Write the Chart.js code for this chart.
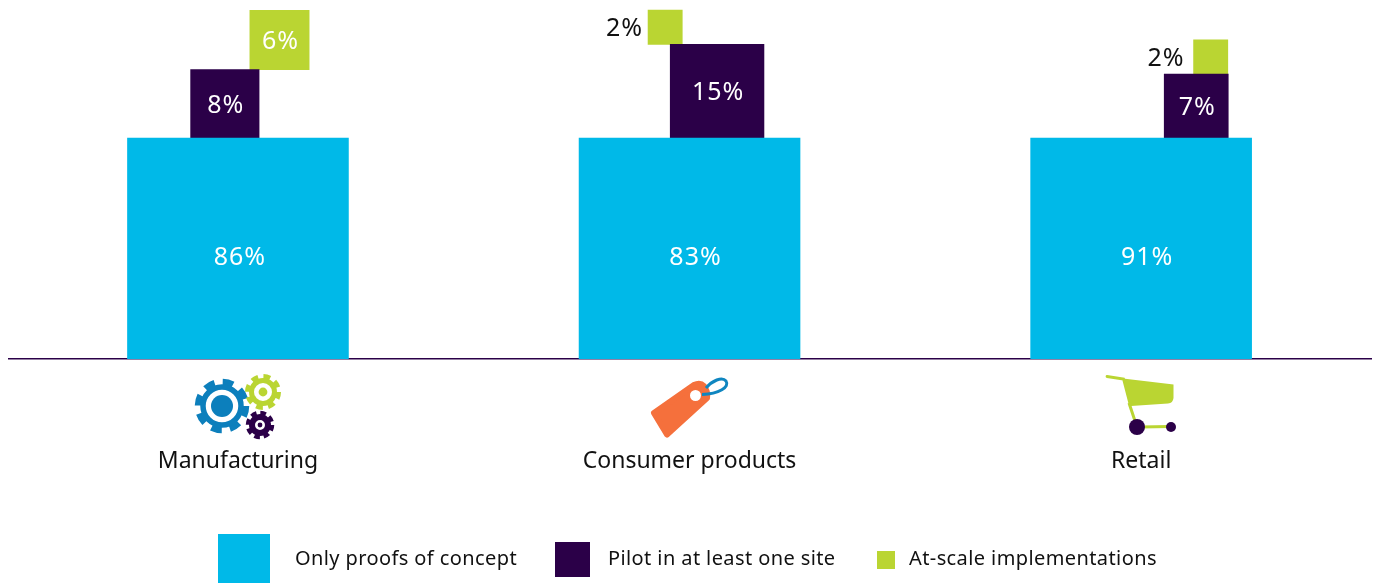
<!DOCTYPE html>
<html>
<head>
<meta charset="utf-8">
<title>Proofs of concept, pilots and at-scale implementations</title>
<script src="https://cdn.jsdelivr.net/npm/chart.js@4/dist/chart.umd.min.js"></script>
<style>
    html, body { margin: 0; padding: 0; background: #fff; }
    #wrap { position: relative; width: 1378px; height: 583px; overflow: hidden; font-family: 'Noto Sans', sans-serif; color: #111; }
    #wrap canvas { position: absolute; left: 0; top: 0; }
    #icons { position: absolute; left: 0; top: 0; pointer-events: none; }
    .key { position: absolute; }
    .key-text { position: absolute; font-size: 20px; line-height: 28px; letter-spacing: 0.4px; white-space: nowrap; top: 544px; }
</style>
</head>
<body>
<div id="wrap">
    <canvas id="adoptionChart" width="1378" height="583"></canvas>

    <svg id="icons" width="1378" height="583" viewBox="0 0 1378 583">
        <!-- gears -->
        <g fill="none">
            <circle cx="222" cy="406" r="24" stroke="#0C7FBC" stroke-width="6.5" stroke-dasharray="10.6 8.25"/>
            <circle cx="222" cy="406" r="19" stroke="#0C7FBC" stroke-width="5.5"/>
            <circle cx="263" cy="392" r="15.5" stroke="#BAD532" stroke-width="5" stroke-dasharray="6.8 5.37"/>
            <circle cx="263" cy="392" r="11.5" stroke="#BAD532" stroke-width="5"/>
            <circle cx="260" cy="425" r="12" stroke="#2B0048" stroke-width="4.5" stroke-dasharray="5.6 3.82"/>
            <circle cx="260" cy="425" r="8" stroke="#2B0048" stroke-width="6"/>
        </g>
        <circle cx="222" cy="406" r="11" fill="#0C7FBC"/>
        <circle cx="263" cy="392" r="4.4" fill="#BAD532"/>
        <circle cx="260" cy="425" r="2.4" fill="#2B0048"/>
        <!-- tag -->
        <path d="M694 385 Q700 382 704 386 Q708 391 707 398 L667 434.5 L654 413 Z" fill="#F5703C" stroke="#F5703C" stroke-width="6" stroke-linejoin="round"/>
        <circle cx="695.5" cy="395.5" r="5.5" fill="#fff"/>
        <path d="M706 388 C712 381 722 376 726 381 C730 387 719 394 702 394.5" fill="none" stroke="#0F86C0" stroke-width="3"/>
        <!-- cart -->
        <path d="M1107 376.5 L1123.5 379 L1130 404" fill="none" stroke="#BAD532" stroke-width="2.8" stroke-linecap="round"/>
        <path d="M1123 378.5 L1173.5 384.5 L1173.5 398 Q1173 403 1168 403.5 L1131 406 Z" fill="#BAD532"/>
        <path d="M1129 403 L1135 421 M1140 427 L1170 426.5" fill="none" stroke="#BAD532" stroke-width="3"/>
        <circle cx="1137" cy="427" r="8" fill="#2B0048"/>
        <circle cx="1171" cy="427" r="5" fill="#2B0048"/>
    </svg>

    <div class="key" style="left:218px;top:534px;width:52px;height:49px;background:#00B9E8"></div>
    <div class="key-text" style="left:295px">Only proofs of concept</div>
    <div class="key" style="left:555px;top:542px;width:35px;height:35px;background:#2B0048"></div>
    <div class="key-text" style="left:608px">Pilot in at least one site</div>
    <div class="key" style="left:877px;top:551px;width:18px;height:18px;background:#BAD532"></div>
    <div class="key-text" style="left:909px">At-scale implementations</div>
</div>

<script>
// data
const categories = ['Manufacturing', 'Consumer products', 'Retail'];
const proofValues = [86, 83, 91];
const pilotValues = [8, 15, 7];
const scaleValues = [6, 2, 2];

// layout: small squares have area proportional to value, the big ones are all the same size
const UNIT_PX = 24.2;
const PROOF_SIDE = 9.13;
const pilotShift = [-0.029, 0.061, 0.122];
const scaleShift = [0.092, -0.054, 0.154];
const sideLabelGap = [0, 5, 9];
const proofLabelNudge = [2, 6, 6];

const BLUE = '#00B9E8', PURPLE = '#2B0048', GREEN = '#BAD532';
const FONT = "'Noto Sans', sans-serif";

function square(x, from, side, color, value, labelDrop, labelNudge, outside) {
    return {
        data: [{ x: x, y: [from, from + side] }],
        backgroundColor: color,
        barThickness: side * UNIT_PX,
        grouped: false,
        valueText: value + '%',
        labelDrop: labelDrop,
        labelNudge: labelNudge,
        outside: outside
    };
}

const datasets = [];
categories.forEach((c, i) => {
    const pilotSide = Math.sqrt(pilotValues[i]);
    const scaleSide = Math.sqrt(scaleValues[i]);
    datasets.push(square(i, 0, PROOF_SIDE, BLUE, proofValues[i], 9, proofLabelNudge[i]));
    datasets.push(square(i + pilotShift[i], PROOF_SIDE, pilotSide, PURPLE, pilotValues[i], 2, 1));
    datasets.push(square(i + scaleShift[i], PROOF_SIDE + pilotSide, scaleSide, GREEN, scaleValues[i], 2, 1,
        scaleValues[i] <= 2 ? sideLabelGap[i] : undefined));
});

// prints the percentages, inside the square or left of it when it is too small
const valueLabels = {
    id: 'valueLabels',
    afterDatasetsDraw(chart) {
        const g = chart.ctx;
        g.save();
        g.font = '25px ' + FONT;
        g.letterSpacing = '1px';
        g.textBaseline = 'middle';
        chart.data.datasets.forEach((ds, i) => {
            const bar = chart.getDatasetMeta(i).data[0];
            const midY = (bar.y + bar.base) / 2 + ds.labelDrop;
            if (ds.outside !== undefined) {
                g.fillStyle = '#111';
                g.textAlign = 'right';
                g.fillText(ds.valueText, bar.x - bar.width / 2 - ds.outside, midY);
            } else {
                g.fillStyle = '#fff';
                g.textAlign = 'center';
                g.fillText(ds.valueText, bar.x + ds.labelNudge, midY);
            }
        });
        g.restore();
    }
};

new Chart(document.getElementById('adoptionChart'), {
    type: 'bar',
    data: { datasets: datasets },
    plugins: [valueLabels],
    options: {
        responsive: false,
        animation: false,
        layout: { padding: { left: 9, right: 7, top: 0, bottom: 0 } },
        plugins: { legend: { display: false }, tooltip: { enabled: false } },
        scales: {
            x: {
                type: 'linear',
                offset: false,
                min: -0.507,
                max: 2.509,
                grid: { display: false, drawTicks: false },
                border: { color: PURPLE, width: 1.5 },
                afterFit(scale) { scale.height = 224; },
                ticks: {
                    stepSize: 1,
                    includeBounds: false,
                    autoSkip: false,
                    maxRotation: 0,
                    padding: 89,
                    color: '#111',
                    font: { family: FONT, size: 23 },
                    callback: v => categories[v]
                }
            },
            y: { display: false, min: 0, max: 359 / UNIT_PX }
        }
    }
});
</script>
</body>
</html>
